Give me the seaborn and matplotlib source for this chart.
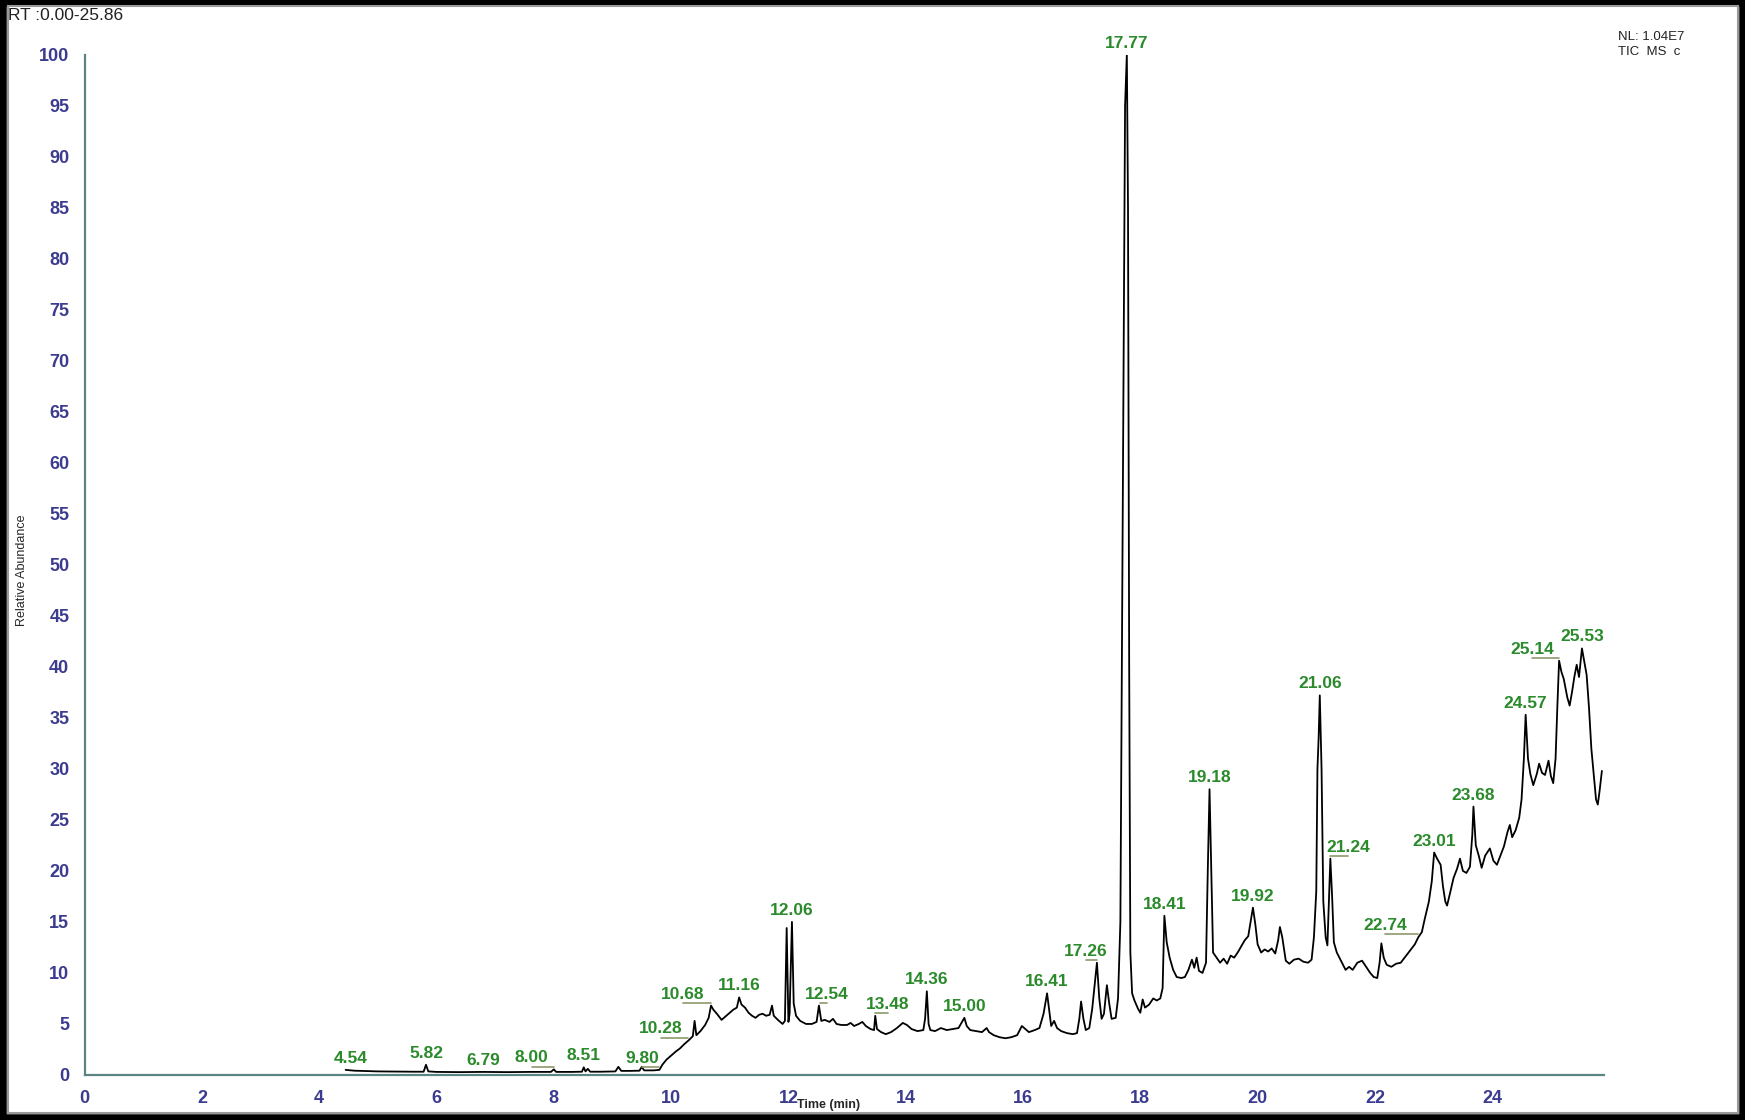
"""
TIC chromatogram (relative abundance vs retention time) with labelled peaks.
"""
import numpy as np
import pandas as pd
import matplotlib
matplotlib.use("Agg")
import matplotlib.pyplot as plt
from matplotlib.ticker import MultipleLocator
from matplotlib.transforms import ScaledTranslation
from matplotlib.patches import Rectangle
import seaborn as sns

# Trace: retention time (min) and relative abundance (%)
rt_min = [
    4.45, 4.60, 4.80, 5.00, 5.30, 5.60, 5.78, 5.82, 5.86, 6.00, 6.40, 6.79, 7.20, 7.60, 7.95,
    8.00, 8.04, 8.30, 8.48, 8.51, 8.54, 8.58, 8.62, 8.80, 9.05, 9.10, 9.15, 9.30, 9.46, 9.50,
    9.54, 9.70, 9.80, 9.85, 9.92, 10.00, 10.08, 10.15, 10.22, 10.30, 10.37, 10.40, 10.43, 10.50,
    10.58, 10.64, 10.68, 10.72, 10.78, 10.86, 10.92, 11.00, 11.06, 11.12, 11.16, 11.20, 11.26,
    11.32, 11.38, 11.44, 11.50, 11.56, 11.62, 11.68, 11.72, 11.75, 11.82, 11.90, 11.94, 11.97,
    12.00, 12.02, 12.06, 12.09, 12.13, 12.20, 12.30, 12.40, 12.48, 12.52, 12.56, 12.62, 12.70,
    12.76, 12.82, 12.90, 13.00, 13.06, 13.12, 13.20, 13.26, 13.32, 13.40, 13.46, 13.48, 13.51,
    13.58, 13.66, 13.75, 13.85, 13.95, 14.02, 14.10, 14.20, 14.30, 14.33, 14.36, 14.39, 14.42,
    14.50, 14.60, 14.70, 14.80, 14.90, 14.96, 15.00, 15.04, 15.10, 15.20, 15.30, 15.38, 15.42,
    15.50, 15.60, 15.70, 15.80, 15.90, 15.98, 16.04, 16.10, 16.20, 16.28, 16.35, 16.41, 16.45,
    16.48, 16.53, 16.58, 16.65, 16.75, 16.85, 16.92, 16.96, 16.99, 17.03, 17.07, 17.13, 17.18,
    17.26, 17.30, 17.34, 17.38, 17.43, 17.47, 17.51, 17.58, 17.62, 17.66, 17.70, 17.74, 17.77,
    17.79, 17.81, 17.83, 17.86, 17.90, 17.96, 18.00, 18.04, 18.08, 18.15, 18.22, 18.28, 18.34,
    18.38, 18.41, 18.45, 18.50, 18.56, 18.62, 18.70, 18.76, 18.82, 18.88, 18.92, 18.96, 19.00,
    19.06, 19.12, 19.15, 19.18, 19.21, 19.24, 19.30, 19.36, 19.42, 19.48, 19.54, 19.60, 19.66,
    19.72, 19.78, 19.84, 19.88, 19.92, 19.96, 20.00, 20.06, 20.12, 20.18, 20.24, 20.30, 20.35,
    20.38, 20.42, 20.48, 20.54, 20.62, 20.70, 20.78, 20.86, 20.92, 20.96, 21.00, 21.02, 21.04,
    21.06, 21.09, 21.12, 21.16, 21.19, 21.22, 21.24, 21.27, 21.30, 21.35, 21.42, 21.50, 21.56,
    21.62, 21.70, 21.78, 21.85, 21.92, 21.98, 22.04, 22.08, 22.11, 22.15, 22.20, 22.28, 22.36,
    22.44, 22.52, 22.60, 22.68, 22.74, 22.80, 22.85, 22.92, 22.97, 23.01, 23.06, 23.12, 23.16,
    23.20, 23.23, 23.28, 23.34, 23.40, 23.45, 23.50, 23.56, 23.62, 23.66, 23.68, 23.72, 23.77,
    23.82, 23.88, 23.96, 24.02, 24.08, 24.14, 24.20, 24.26, 24.30, 24.34, 24.40, 24.46, 24.50,
    24.54, 24.57, 24.61, 24.65, 24.70, 24.76, 24.80, 24.85, 24.90, 24.96, 25.00, 25.04, 25.08,
    25.11, 25.14, 25.18, 25.22, 25.28, 25.32, 25.36, 25.40, 25.44, 25.48, 25.53, 25.57, 25.61,
    25.65, 25.69, 25.73, 25.77, 25.80, 25.83, 25.87,
]
abundance = [
    0.50, 0.42, 0.38, 0.35, 0.33, 0.32, 0.32, 1.00, 0.35, 0.30, 0.28, 0.30, 0.28, 0.30, 0.30,
    0.55, 0.30, 0.30, 0.32, 0.75, 0.35, 0.60, 0.32, 0.32, 0.35, 0.80, 0.40, 0.40, 0.42, 0.80,
    0.45, 0.45, 0.50, 1.0, 1.5, 1.9, 2.3, 2.6, 3.0, 3.4, 3.8, 5.3, 3.9, 4.3,
    4.9, 5.6, 6.8, 6.4, 6.0, 5.4, 5.7, 6.1, 6.4, 6.6, 7.6, 6.9, 6.6,
    6.1, 5.8, 5.6, 5.9, 6.0, 5.8, 5.9, 6.8, 5.8, 5.4, 5.0, 5.3, 14.4,
    5.2, 6.0, 15.0, 7.0, 5.8, 5.3, 5.0, 5.0, 5.2, 6.8, 5.3, 5.4, 5.2,
    5.5, 5.0, 4.9, 4.9, 5.1, 4.8, 5.0, 5.2, 4.8, 4.5, 4.4, 5.8, 4.5,
    4.2, 4.0, 4.2, 4.6, 5.1, 4.9, 4.5, 4.3, 4.4, 5.5, 8.2, 5.0, 4.4,
    4.3, 4.6, 4.4, 4.5, 4.6, 5.2, 5.6, 4.8, 4.4, 4.3, 4.2, 4.6, 4.2,
    3.9, 3.7, 3.6, 3.7, 3.9, 4.8, 4.5, 4.2, 4.4, 4.6, 6.0, 8.0, 6.2,
    4.8, 5.3, 4.6, 4.3, 4.1, 4.0, 4.1, 5.5, 7.2, 5.5, 4.4, 4.6, 6.5,
    11.0, 7.5, 5.5, 6.0, 8.8, 7.0, 5.5, 5.6, 7.5, 15.0, 55.0, 95.0, 100.0,
    85.0, 40.0, 12.0, 8.0, 7.3, 6.5, 6.1, 7.4, 6.6, 6.9, 7.5, 7.3, 7.5,
    8.5, 15.6, 13.0, 11.5, 10.3, 9.6, 9.5, 9.6, 10.3, 11.3, 10.5, 11.5, 10.2,
    10.0, 11.0, 20.0, 28.0, 20.0, 12.0, 11.5, 11.0, 11.4, 10.9, 11.7, 11.5, 12.0,
    12.6, 13.2, 13.6, 15.0, 16.4, 14.8, 12.8, 12.0, 12.3, 12.1, 12.4, 11.9, 13.2,
    14.5, 13.5, 11.2, 10.9, 11.3, 11.4, 11.1, 11.0, 11.3, 13.5, 18.0, 30.0, 33.0,
    37.2, 30.0, 17.0, 13.5, 12.7, 18.0, 21.2, 17.5, 13.0, 12.0, 11.2, 10.3, 10.6,
    10.3, 11.0, 11.2, 10.6, 10.0, 9.6, 9.5, 11.0, 12.9, 11.5, 10.8, 10.6, 10.9,
    11.0, 11.6, 12.2, 12.8, 13.5, 14.0, 15.3, 17.0, 19.0, 21.8, 21.2, 20.6, 18.5,
    17.0, 16.6, 17.8, 19.3, 20.2, 21.2, 20.0, 19.8, 20.4, 23.5, 26.3, 22.5, 21.5,
    20.3, 21.5, 22.2, 21.0, 20.6, 21.5, 22.4, 23.8, 24.5, 23.3, 24.0, 25.2, 27.0,
    31.0, 35.3, 31.0, 29.5, 28.4, 29.5, 30.5, 29.6, 29.4, 30.8, 29.3, 28.6, 31.0,
    36.0, 40.6, 39.5, 38.8, 37.0, 36.2, 37.5, 39.0, 40.2, 39.0, 41.8, 40.5, 39.2,
    36.0, 32.0, 29.5, 27.0, 26.5, 27.8, 29.8,
]

# Labelled peaks and how far (min) each label is pushed sideways from its peak
peak_labels = [4.54, 5.82, 6.79, 8.00, 8.51, 9.80, 10.28, 10.68, 11.16, 12.06, 12.54, 13.48,
               14.36, 15.00, 16.41, 17.26, 17.77, 18.41, 19.18, 19.92, 21.06, 21.24, 22.74,
               23.01, 23.68, 24.57, 25.14, 25.53]
label_shift = [0, 0, 0, -0.38, 0, -0.30, -0.46, -0.48, 0, 0, 0.11, 0.21,
               0, 0, 0, -0.19, 0, 0, 0, 0, 0, 0.30, -0.57,
               0, 0, 0, -0.46, 0]

n = min(len(rt_min), len(abundance))
df = pd.DataFrame({"rt": rt_min[:n], "abundance": abundance[:n]})

axis_col = "#5c8484"
tick_col = "#3b3b8f"
label_col = "#2b8a2b"
lead_col = "#8c9a6c"

sns.set_style("white")
plt.rcParams["font.family"] = ["Liberation Sans", "DejaVu Sans"]

fig = plt.figure(figsize=(17.45, 11.2), dpi=100)
ax = fig.add_axes([0.0485, 0.0402, 0.8705, 0.9111])

sns.lineplot(data=df, x="rt", y="abundance", estimator=None, sort=False,
             color="black", linewidth=1.3, ax=ax)

ax.set_xlim(0, 25.9)
ax.set_ylim(0, 100)
for s in ["top", "right"]:
    ax.spines[s].set_visible(False)
for s in ["left", "bottom"]:
    ax.spines[s].set_color(axis_col)
    ax.spines[s].set_linewidth(1.6)

ax.xaxis.set_major_locator(MultipleLocator(2))
ax.xaxis.set_minor_locator(MultipleLocator(0.5))
ax.yaxis.set_major_locator(MultipleLocator(5))
ax.yaxis.set_minor_locator(MultipleLocator(0.5))
ax.tick_params(axis="both", which="major", direction="out", color=axis_col,
               width=1.4, length=8, labelsize=13, labelcolor=tick_col, pad=3)
ax.tick_params(axis="both", which="minor", direction="out", color=axis_col,
               width=1.0, length=3.5)
for lab in ax.get_xticklabels() + ax.get_yticklabels():
    lab.set_fontweight("bold")

ax.set_xlabel("Time (min)", fontsize=9, fontweight="bold")
ax.xaxis.set_label_coords(0.4895, -0.024)
ax.set_ylabel("Relative Abundance", fontsize=9)
ax.yaxis.set_label_coords(-0.037, 0.495)

# peak labels: text above the local maximum, with a leader line if shifted
rt_arr = df["rt"].to_numpy()
ab_arr = df["abundance"].to_numpy()
lift = ax.transData + ScaledTranslation(0, 2 / 72, fig.dpi_scale_trans)
for t, dx in zip(peak_labels, label_shift):
    win = (rt_arr >= t - 0.04) & (rt_arr <= t + 0.04)
    top = np.interp(t, rt_arr, ab_arr)
    if win.any():
        top = max(top, ab_arr[win].max())
    ax.annotate(f"{t:.2f}", xy=(t + dx, top), xytext=(0, 5), textcoords="offset points",
                ha="center", va="baseline", fontsize=12.5, fontweight="bold",
                color=label_col, annotation_clip=False)
    if dx != 0:
        ax.plot([t, t + dx], [top, top], color=lead_col, lw=1.2, transform=lift,
                clip_on=False)

fig.text(0.0045, 0.982, "RT :0.00-25.86", fontsize=12.5, color="#222222", va="baseline")
fig.text(0.927, 0.967, "NL: 1.04E7", fontsize=9.5, color="#222222", va="center")
fig.text(0.927, 0.954, "TIC  MS  c", fontsize=9.5, color="#222222", va="center")

# window frame
fig.patches.append(Rectangle((0, 0), 1, 1, transform=fig.transFigure, fill=False,
                             edgecolor="black", linewidth=9))
fig.patches.append(Rectangle((0.0046, 0.0065), 0.9915, 0.988, transform=fig.transFigure,
                             fill=False, edgecolor="#9a9a9a", linewidth=1.5))

fig.savefig("out.png", dpi=100)
